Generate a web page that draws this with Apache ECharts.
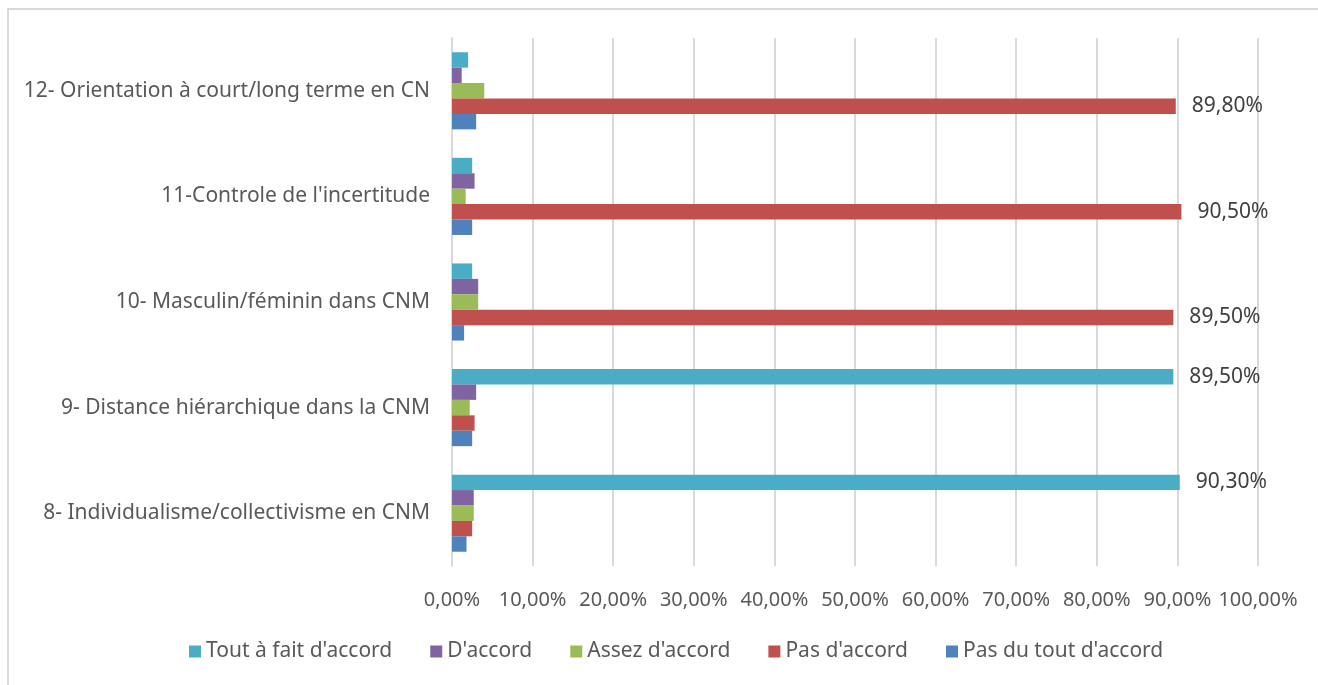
<!DOCTYPE html>
<html>
<head>
<meta charset="utf-8">
<script src="https://cdn.jsdelivr.net/npm/echarts@6/dist/echarts.min.js"></script>
<style>
html,body{margin:0;padding:0;background:#fff;overflow:hidden;width:1318px;height:685px;}
#frame{position:absolute;left:7px;top:8px;width:1311px;height:677px;border-left:2px solid #D9D9D9;border-top:2px solid #D9D9D9;box-sizing:border-box;}
#chart{position:absolute;left:0;top:0;width:1318px;height:685px;}
</style>
</head>
<body>
<div id="frame"></div>
<div id="chart"></div>
<script>
const categories = [
  "8- Individualisme/collectivisme en CNM",
  "9- Distance hiérarchique dans la CNM",
  "10- Masculin/féminin dans CNM",
  "11-Controle de l'incertitude",
  "12- Orientation à court/long terme en CN"
];
const seriesNames = ["Tout à fait d'accord", "D'accord", "Assez d'accord", "Pas d'accord", "Pas du tout d'accord"];
const toutAFait = [90.3, 89.5, 2.5, 2.5, 2.0];
const dAccord = [2.7, 3.0, 3.25, 2.8, 1.2];
const assez = [2.7, 2.2, 3.25, 1.7, 4.0];
const pasDAccord = [2.5, 2.8, 89.5, 90.5, 89.8];
const pasDuTout = [1.8, 2.5, 1.5, 2.5, 3.0];
const xTicks = [0, 10, 20, 30, 40, 50, 60, 70, 80, 90, 100];

const colors = ['#4BACC6', '#8064A2', '#9BBB59', '#C0504D', '#4F81BD'];
const values = [toutAFait, dAccord, assez, pasDAccord, pasDuTout];
const fmt = v => v.toFixed(2).replace('.', ',') + '%';
const FONT = 'Noto Sans';

const chart = echarts.init(document.getElementById('chart'));
chart.setOption({
  animation: false,
  color: colors,
  grid: { left: 452, right: 60, top: 38, bottom: 119, containLabel: false },
  legend: {
    bottom: 18,
    left: 184,
    itemWidth: 12, itemHeight: 12, itemGap: 38,
    icon: 'rect',
    textStyle: { fontFamily: FONT, fontSize: 21, color: '#595959' },
    data: seriesNames
  },
  xAxis: {
    type: 'value', min: xTicks[0], max: xTicks[xTicks.length - 1], interval: 10,
    axisLine: { show: false }, axisTick: { show: false },
    splitLine: { lineStyle: { color: '#D9D9D9', width: 2 } },
    axisLabel: { formatter: v => fmt(v), fontFamily: FONT, fontSize: 20, color: '#595959', margin: 24 }
  },
  yAxis: {
    type: 'category', data: categories,
    axisLine: { show: true, lineStyle: { color: '#D9D9D9', width: 2 } },
    axisTick: { show: false },
    axisLabel: { fontFamily: FONT, fontSize: 21, color: '#595959', margin: 22 }
  },
  series: seriesNames.map((name, i) => ({
    name, type: 'bar',
    barGap: '0%', barCategoryGap: '27%',
    data: values[i].map(v => ({
      value: v,
      label: {
        show: v > 50, position: 'right', distance: 16,
        formatter: p => fmt(p.value),
        fontFamily: FONT, fontSize: 21, color: '#404040'
      }
    })),
    itemStyle: { color: colors[i] }
  }))
});
</script>
</body>
</html>
